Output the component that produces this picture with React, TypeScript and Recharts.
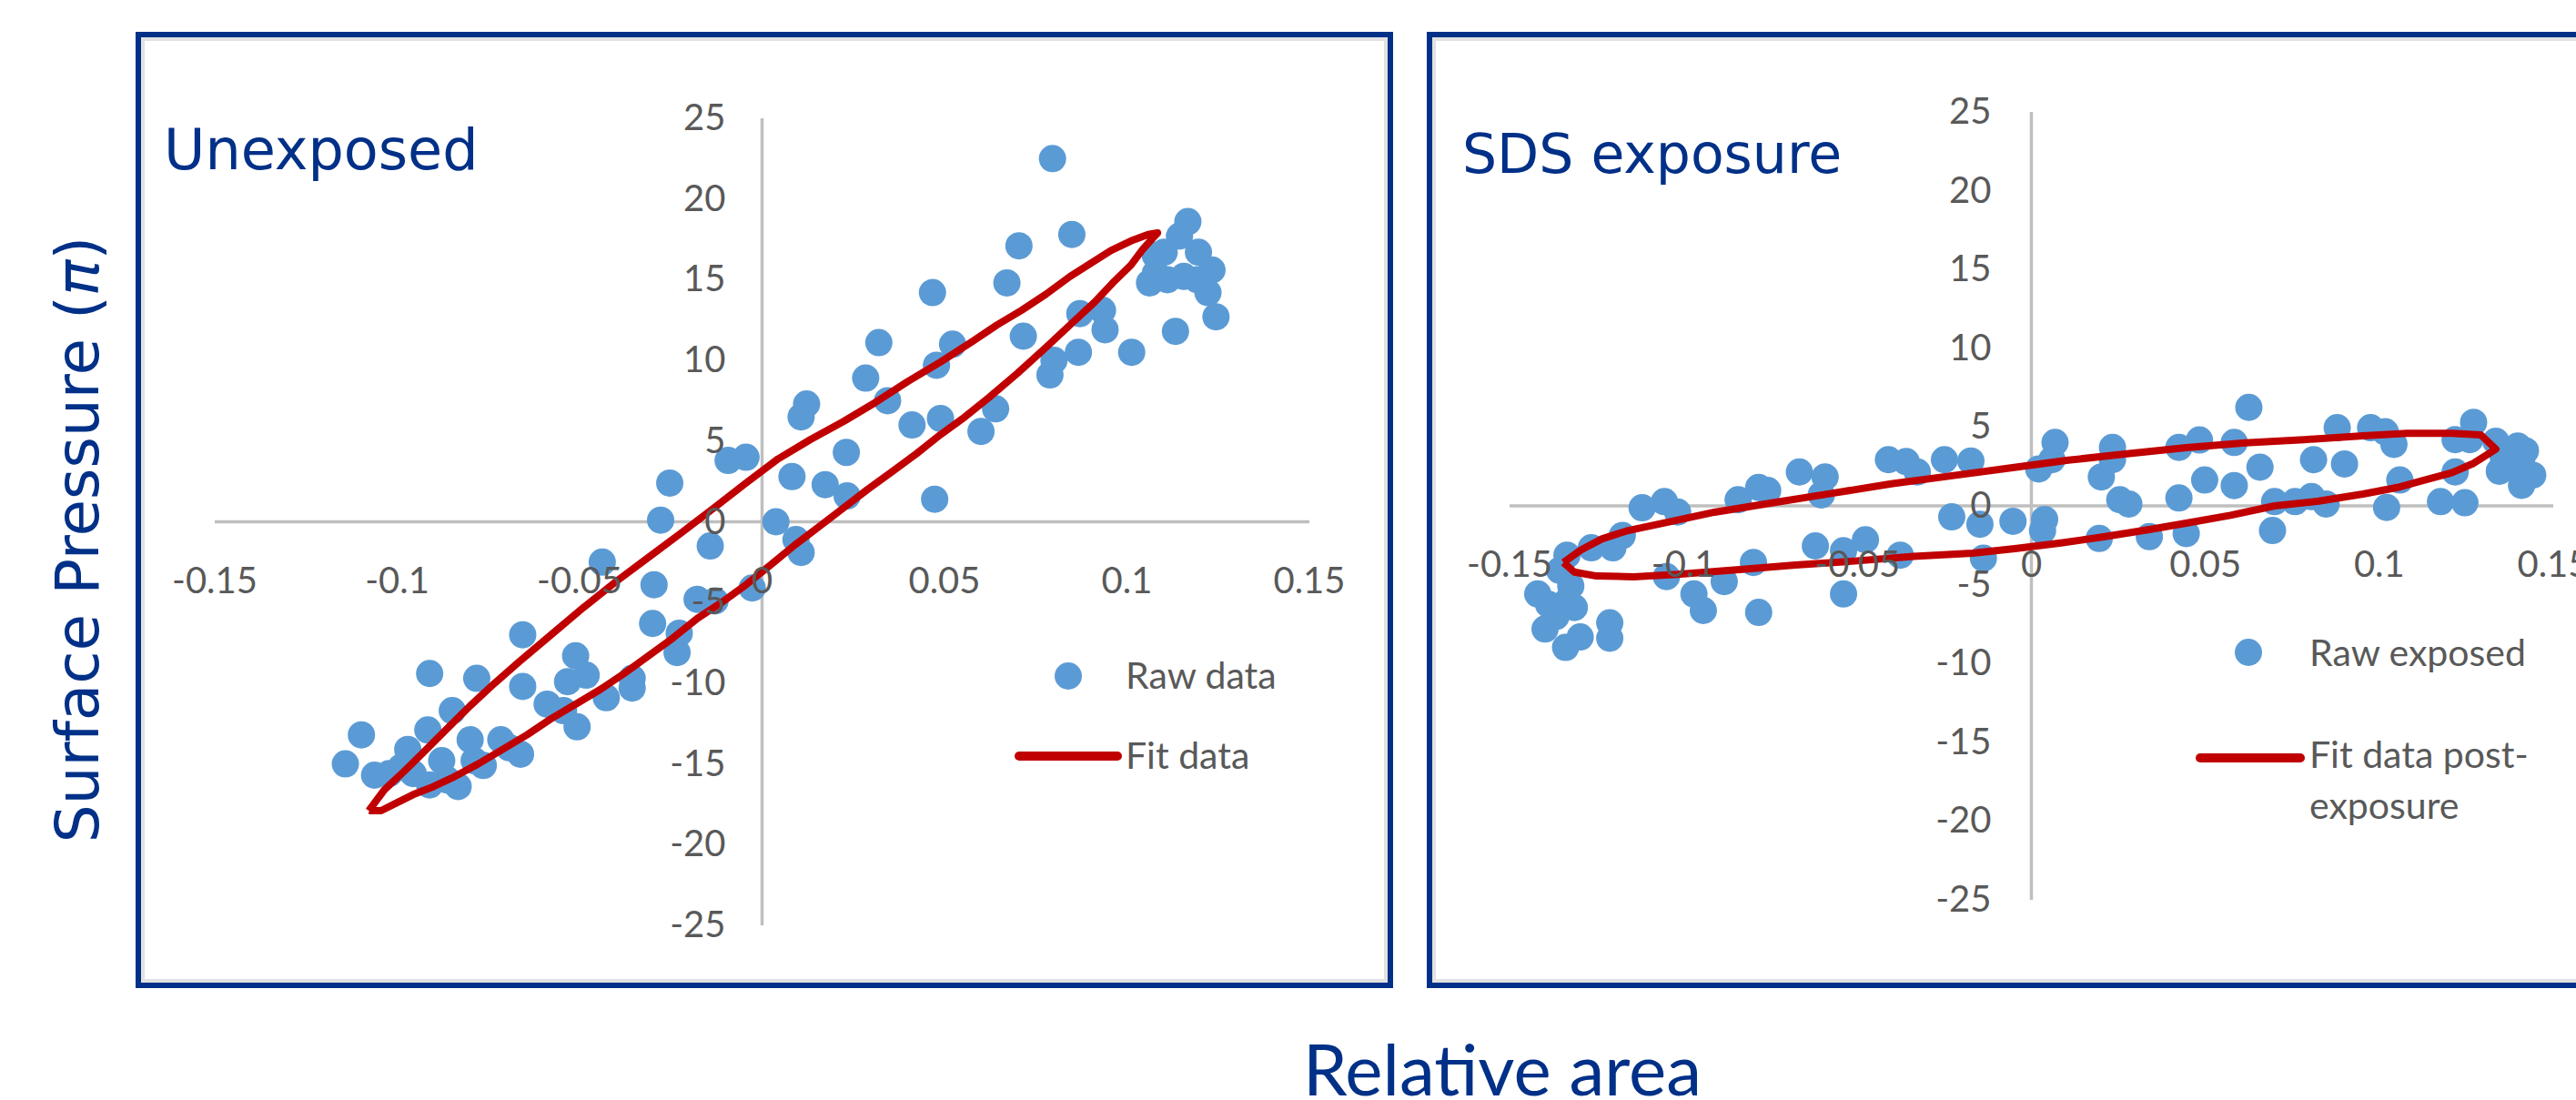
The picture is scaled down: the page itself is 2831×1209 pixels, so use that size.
import React from 'react'
import { ScatterChart, Scatter, XAxis, YAxis, ReferenceLine, Legend } from 'recharts'

const BLUE = '#003087'
const DOT = '#5B9BD5'
const RED = '#C00000'
const AXIS = '#BFBFBF'
const TICK_TEXT = '#595959'
const FONT_CAL = 'Lato, "Liberation Sans", sans-serif'
const FONT_VER = '"DejaVu Sans", Verdana, sans-serif'

const xTicks = [-0.15, -0.1, -0.05, 0, 0.05, 0.1, 0.15]
const yTicks = [-25, -20, -15, -10, -5, 0, 5, 10, 15, 20, 25]

// [relative area, surface pressure]
const rawUnexposed: [number, number][] = [
  [0.0796, 22.5], [0.0849, 17.8], [0.0704, 17.1], [0.1167, 18.6], [0.1144, 17.7], [0.1196, 16.7],
  [0.1078, 16.5], [0.1062, 14.8], [0.1156, 15.2], [0.1233, 15.6], [0.1222, 14.2], [0.1244, 12.7],
  [0.1133, 11.8], [0.1013, 10.5], [0.094, 11.9], [0.0933, 13.1], [0.0871, 12.9], [0.0867, 10.5],
  [0.08, 10.0], [0.0789, 9.1], [0.0716, 11.5], [0.0671, 14.8], [0.0467, 14.2], [0.0522, 11.0],
  [0.0478, 9.7], [0.064, 7.0], [0.06, 5.6], [0.0489, 6.4], [0.0411, 6.0], [0.0473, 1.4],
  [0.0344, 7.5], [0.032, 11.1], [0.0284, 8.9], [0.0231, 4.3], [0.0173, 2.3], [0.0233, 1.6],
  [0.0122, 7.3], [0.0107, 6.5], [0.0082, 2.8], [0.0038, 0.0], [0.0093, -1.1], [0.0107, -1.9],
  [-0.0027, -4.1], [-0.0044, 4.0], [-0.0093, 3.8], [-0.0142, -1.5], [-0.0129, -4.9], [-0.0178, -4.8],
  [-0.0253, 2.4], [-0.0278, 0.1], [-0.0296, -3.9], [-0.03, -6.3], [-0.0227, -6.9], [-0.0233, -8.1],
  [-0.0438, -2.5], [-0.0356, -9.7], [-0.0356, -10.3], [-0.0427, -10.9], [-0.0511, -8.3], [-0.0533, -9.9],
  [-0.0482, -9.5], [-0.0589, -11.3], [-0.0544, -11.7], [-0.0507, -12.7], [-0.0656, -7.0], [-0.0656, -10.2],
  [-0.0716, -13.5], [-0.0662, -14.4], [-0.0693, -14.0], [-0.0782, -9.7], [-0.08, -13.5], [-0.0789, -14.8],
  [-0.0764, -15.1], [-0.0849, -11.7], [-0.0911, -9.4], [-0.0916, -12.9], [-0.0971, -14.1], [-0.0878, -14.8],
  [-0.0911, -16.3], [-0.0833, -16.4], [-0.0862, -16.0], [-0.0989, -15.2], [-0.1022, -15.6], [-0.1062, -15.7],
  [-0.1098, -13.2], [-0.1142, -15.0], [-0.0956, -15.6], [0.1078, 15.4], [0.1111, 15.0], [0.1193, 15.0],
  [0.1102, 16.7],
]

const fitUnexposed: [number, number][] = [
  [-0.1078, -17.9], [-0.1035, -16.6], [-0.0978, -15.4], [-0.0933, -14.4], [-0.0867, -12.9], [-0.08, -11.4],
  [-0.0733, -10.0], [-0.0667, -8.7], [-0.0578, -7.0], [-0.0489, -5.3], [-0.04, -3.7], [-0.0311, -2.2],
  [-0.0222, -0.7], [-0.0133, 0.84], [-0.0044, 2.4], [0.0044, 3.9], [0.0133, 5.1], [0.0222, 6.2],
  [0.0311, 7.4], [0.04, 8.7], [0.0489, 9.9], [0.0578, 11.2], [0.0644, 12.2], [0.0711, 13.1],
  [0.0778, 14.1], [0.0844, 15.2], [0.09, 16.0], [0.0956, 16.8], [0.1011, 17.4], [0.1058, 17.8],
  [0.1084, 17.9], [0.1044, 16.9], [0.1011, 15.9], [0.0961, 14.8], [0.0911, 13.6], [0.0844, 12.2],
  [0.0778, 10.8], [0.07, 9.2], [0.0622, 7.7], [0.0556, 6.5], [0.0489, 5.4], [0.0422, 4.2],
  [0.0356, 3.1], [0.0289, 2.0], [0.0222, 0.84], [0.0156, -0.3], [0.0089, -1.45], [0.0022, -2.7],
  [-0.0044, -3.9], [-0.0111, -5.0], [-0.0178, -6.0], [-0.0244, -7.2], [-0.0311, -8.3], [-0.0378, -9.4],
  [-0.0444, -10.4], [-0.0511, -11.3], [-0.0578, -12.2], [-0.0644, -13.2], [-0.0711, -14.1], [-0.0778, -15.0],
  [-0.0844, -15.8], [-0.09, -16.4], [-0.0956, -16.9], [-0.1, -17.4], [-0.1044, -17.9], [-0.1078, -17.9],
]

const rawExposed: [number, number][] = [
  [0.0625, 6.25], [0.0879, 4.96], [0.0975, 4.96], [0.1017, 4.7], [0.1042, 3.9], [0.1271, 5.3],
  [0.1218, 4.2], [0.126, 4.2], [0.1335, 4.1], [0.1398, 3.8], [0.1356, 3.1], [0.1409, 2.9],
  [0.1441, 1.95], [0.1409, 1.3], [0.1345, 2.2], [0.1377, 2.5], [0.1218, 2.15], [0.1176, 0.27],
  [0.1246, 0.2], [0.1059, 1.64], [0.1021, -0.1], [0.09, 2.66], [0.0811, 2.93], [0.0805, 0.59],
  [0.0847, 0.12], [0.0758, 0.27], [0.0699, 0.27], [0.0693, -1.56], [0.0657, 2.46], [0.0583, 4.02],
  [0.0583, 1.29], [0.0483, 4.18], [0.0424, 3.71], [0.0498, 1.64], [0.0424, 0.5], [0.0445, -1.76],
  [0.0339, -1.95], [0.0195, -2.07], [0.0233, 3.71], [0.0233, 2.93], [0.0201, 1.84], [0.0254, 0.39],
  [0.028, 0.12], [0.0068, 4.02], [0.0059, 2.93], [0.0021, 2.34], [0.0038, -0.86], [0.0032, -1.56],
  [-0.0053, -0.98], [-0.0148, -1.17], [-0.0229, -0.7], [-0.0138, -3.32], [-0.0174, 2.85], [-0.025, 2.93],
  [-0.0328, 2.15], [-0.036, 2.81], [-0.0411, 2.93], [-0.0377, -3.13], [-0.0477, -2.15], [-0.054, -2.85],
  [-0.054, -5.59], [-0.0621, -2.54], [-0.0604, 0.7], [-0.0593, 1.84], [-0.0667, 2.15], [-0.0758, 0.98],
  [-0.0784, 1.17], [-0.0843, 0.39], [-0.0799, -3.59], [-0.0784, -6.76], [-0.0883, -4.8], [-0.097, -5.59],
  [-0.0943, -6.64], [-0.1049, -4.49], [-0.1017, -0.39], [-0.1055, 0.27], [-0.1119, -0.12], [-0.1176, -1.88],
  [-0.1203, -2.66], [-0.1265, -2.66], [-0.1335, -3.13], [-0.1356, -4.1], [-0.1324, -5.08], [-0.1419, -5.59],
  [-0.1388, -6.25], [-0.1314, -6.45], [-0.1398, -7.81], [-0.1339, -8.98], [-0.1297, -8.32], [-0.1212, -7.42],
  [-0.1212, -8.4], [-0.1367, -7.03], [-0.1335, -6.05], [0.142, 3.5],
]

const fitExposed: [number, number][] = [
  [-0.1345, -3.6], [-0.1295, -2.8], [-0.1235, -2.1], [-0.1165, -1.6], [-0.106, -1.1], [-0.0911, -0.4],
  [-0.0742, 0.2], [-0.0572, 0.8], [-0.0403, 1.4], [-0.0233, 1.9], [-0.0064, 2.4], [0.0106, 2.9],
  [0.0275, 3.3], [0.0445, 3.7], [0.0614, 4.0], [0.0784, 4.2], [0.0953, 4.45], [0.108, 4.6],
  [0.1208, 4.6], [0.1292, 4.5], [0.1335, 3.6], [0.1271, 2.7], [0.1208, 2.1], [0.1123, 1.6],
  [0.1059, 1.2], [0.0953, 0.75], [0.0826, 0.3], [0.0699, 0.0], [0.0572, -0.6], [0.0445, -1.1],
  [0.0339, -1.5], [0.0212, -1.95], [0.0085, -2.35], [-0.0042, -2.7], [-0.0169, -3.0], [-0.0339, -3.2],
  [-0.0508, -3.5], [-0.0678, -3.75], [-0.0847, -4.05], [-0.1017, -4.35], [-0.1144, -4.5], [-0.125, -4.45],
  [-0.1314, -4.2], [-0.1345, -3.6],
]

const toPoints = (pairs: [number, number][]) => pairs.map(([x, y]) => ({ x, y }))

function Panel({ left, top, width, height }: { left: number; top: number; width: number; height: number }) {
  return (
    <div
      style={{
        position: 'absolute', left, top, width, height, boxSizing: 'border-box',
        border: `6px solid ${BLUE}`, boxShadow: 'inset 0 0 0 4px #E2E2E2', background: '#fff',
      }}
    />
  )
}

function XTick({ x, y, payload, shift }: any) {
  return (
    <text x={x} y={y + shift} textAnchor="middle" fill={TICK_TEXT} fontFamily={FONT_CAL} fontSize={40}>
      {payload.value}
    </text>
  )
}

function YTick({ x, y, payload, shift }: any) {
  return (
    <text x={x + shift} y={y + 13} textAnchor="end" fill={TICK_TEXT} fontFamily={FONT_CAL} fontSize={40}>
      {payload.value}
    </text>
  )
}

interface LegendLayout {
  left: number
  top: number
  dot: [number, number]
  textX: number
  rawBase: number
  line: [number, number, number]
  fitBase: number
}

function makeLegend(lay: LegendLayout) {
  return function LegendBox({ payload }: any) {
    const items = payload || []
    const raw = items.find((it: any) => it.type !== 'line')
    const fit = items.find((it: any) => it.type === 'line')
    const fitLines = fit ? String(fit.value).split('\n') : []
    return (
      <svg width={420} height={260} style={{ overflow: 'visible' }}>
        <circle cx={lay.dot[0]} cy={lay.dot[1]} r={15} fill={DOT} />
        <text x={lay.textX} y={lay.rawBase} fill={TICK_TEXT} fontFamily={FONT_CAL} fontSize={41}>
          {raw ? raw.value : ''}
        </text>
        <line x1={lay.line[0]} x2={lay.line[1]} y1={lay.line[2]} y2={lay.line[2]} stroke={RED} strokeWidth={10} strokeLinecap="round" />
        {fitLines.map((t: string, i: number) => (
          <text key={t} x={lay.textX} y={lay.fitBase + i * 56} fill={TICK_TEXT} fontFamily={FONT_CAL} fontSize={41}>
            {t}
          </text>
        ))}
      </svg>
    )
  }
}

interface ChartProps {
  left: number
  top: number
  width: number
  height: number
  margin: { top: number; right: number; bottom: number; left: number }
  raw: [number, number][]
  fit: [number, number][]
  rawName: string
  fitName: string
  yGap: number
  legend: LegendLayout
}

// axes are 1px thick so they still render; labels are shifted onto the zero lines
function HysteresisChart({ left, top, width, height, margin, raw, fit, rawName, fitName, yGap, legend }: ChartProps) {
  const plotH = height - margin.top - margin.bottom - 1
  const plotW = width - margin.left - margin.right - 1
  const LegendBox = makeLegend(legend)
  return (
    <div style={{ position: 'absolute', left, top }}>
      <ScatterChart width={width} height={height} margin={margin}>
        <XAxis
          type="number" dataKey="x" domain={[-0.15, 0.15]} ticks={xTicks} interval={0} allowDataOverflow
          axisLine={false} tickLine={false} tickSize={0} tickMargin={0} height={1}
          tick={<XTick shift={-plotH / 2 + 78} />}
        />
        <YAxis
          type="number" dataKey="y" domain={[-25, 25]} ticks={yTicks} interval={0} allowDataOverflow
          axisLine={false} tickLine={false} tickSize={0} tickMargin={0} width={1}
          tick={<YTick shift={plotW / 2 - yGap} />}
        />
        <ReferenceLine y={0} stroke={AXIS} strokeWidth={3.5} />
        <ReferenceLine x={0} stroke={AXIS} strokeWidth={3.5} />
        <Scatter
          name={rawName} data={toPoints(raw)} fill={DOT} isAnimationActive={false}
          shape={(p: any) => <circle cx={p.cx} cy={p.cy} r={15} fill={DOT} />}
        />
        <Scatter
          name={fitName} data={toPoints(fit)} fill={RED} legendType="line" isAnimationActive={false}
          line={{ stroke: RED, strokeWidth: 8, strokeLinejoin: 'round' }} lineType="joint" lineJointType="linear"
          shape={() => <g />}
        />
        <Legend
          layout="vertical" align="center" verticalAlign="middle"
          wrapperStyle={{ left: legend.left - left, top: legend.top - top, width: 420, height: 260 }}
          content={<LegendBox />}
        />
      </ScatterChart>
    </div>
  )
}

export default function App() {
  return (
    <div style={{ position: 'absolute', left: 0, top: 0, width: 2831, height: 1209, overflow: 'hidden', background: '#fff' }}>
      <Panel left={149} top={35} width={1382} height={1051} />
      <Panel left={1568} top={35} width={1400} height={1051} />
      <HysteresisChart
        left={150} top={40} width={1380} height={1040}
        margin={{ top: 90, right: 91, bottom: 62, left: 85 }}
        raw={rawUnexposed} fit={fitUnexposed} rawName="Raw data" fitName="Fit data" yGap={40}
        legend={{ left: 1110, top: 700, dot: [64, 43], textX: 127, rawBase: 57, line: [10, 118, 131], fitBase: 145 }}
      />
      <HysteresisChart
        left={1575} top={40} width={1256} height={1040}
        margin={{ top: 83, right: 25, bottom: 90, left: 83 }}
        raw={rawExposed} fit={fitExposed} rawName="Raw exposed" fitName={'Fit data post-\nexposure'} yGap={44}
        legend={{ left: 2405, top: 680, dot: [66, 37], textX: 133, rawBase: 52, line: [13, 123, 153], fitBase: 164 }}
      />
      <svg width={2831} height={1209} style={{ position: 'absolute', left: 0, top: 0, pointerEvents: 'none' }}>
        <text x={180} y={186} fill={BLUE} fontFamily={FONT_VER} fontSize={62}>Unexposed</text>
        <text x={1607} y={190} fill={BLUE} fontFamily={FONT_VER} fontSize={60}>SDS exposure</text>
        <text transform="translate(108 593) rotate(-90)" textAnchor="middle" fill={BLUE} fontFamily={FONT_VER} fontSize={66}>
          Surface Pressure (<tspan fontStyle="italic">π</tspan>)
        </text>
        <text x={1432} y={1204} fill={BLUE} fontFamily={FONT_CAL} fontSize={78}>Relative area</text>
      </svg>
    </div>
  )
}
